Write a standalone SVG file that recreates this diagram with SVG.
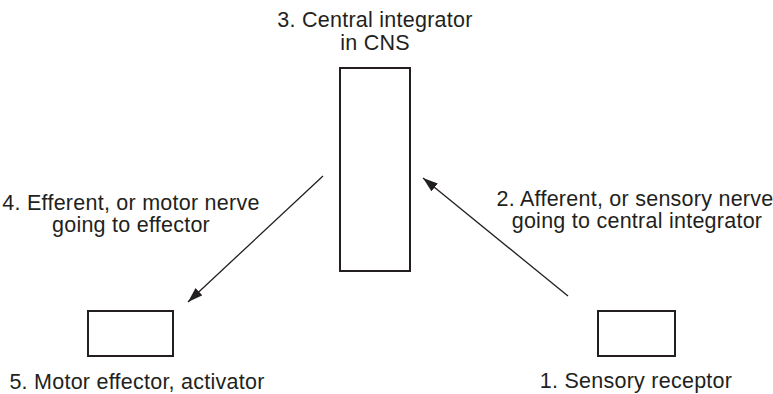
<svg xmlns="http://www.w3.org/2000/svg" width="773" height="394" viewBox="0 0 773 394">
<defs>
<style>
.box{fill:#fff;stroke:#231f20;stroke-width:2}
.lbl{font-family:"Liberation Sans",Arial,sans-serif;font-size:21.5px;letter-spacing:0.25px;fill:#231f20;text-anchor:middle}
.edge{stroke:#231f20;stroke-width:1.3;fill:none}
</style>
<marker id="ah" markerUnits="userSpaceOnUse" markerWidth="16" markerHeight="12" refX="15" refY="5" orient="auto">
<path d="M0,0 L15,5 L0,10 z" fill="#231f20"/>
</marker>
</defs>
<rect width="773" height="394" fill="#fff"/>
<g id="connectors">
<line class="edge" x1="323" y1="176" x2="188" y2="302" marker-end="url(#ah)"/>
<line class="edge" x1="568" y1="296" x2="423" y2="178" marker-end="url(#ah)"/>
</g>
<g id="node-integrator">
<rect class="box" x="340" y="68" width="70" height="203"/>
<text class="lbl" x="375" y="27">3. Central integrator</text>
<text class="lbl" x="375" y="50">in CNS</text>
</g>
<g id="node-receptor">
<rect class="box" x="598" y="311" width="77" height="45"/>
<text class="lbl" x="636" y="388">1. Sensory receptor</text>
</g>
<g id="node-effector">
<rect class="box" x="88" y="311" width="85" height="45"/>
<text class="lbl" x="137" y="389">5. Motor effector, activator</text>
</g>
<g id="label-afferent">
<text class="lbl" x="635" y="206">2. Afferent, or sensory nerve</text>
<text class="lbl" x="637" y="228">going to central integrator</text>
</g>
<g id="label-efferent">
<text class="lbl" x="131" y="210">4. Efferent, or motor nerve</text>
<text class="lbl" x="131" y="232">going to effector</text>
</g>
</svg>
